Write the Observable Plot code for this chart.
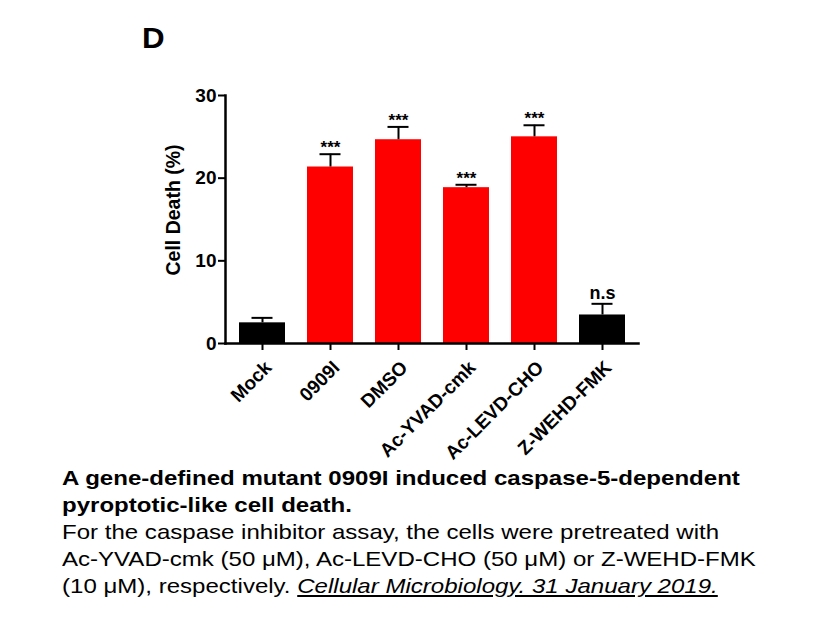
<!DOCTYPE html>
<html>
<head>
<meta charset="utf-8">
<script src="https://cdn.jsdelivr.net/npm/d3@7"></script>
<script src="https://cdn.jsdelivr.net/npm/@observablehq/plot@0.6"></script>
<style>
  html, body { margin: 0; padding: 0; background: #fff; }
  body { width: 831px; height: 624px; position: relative; overflow: hidden; font-family: "Liberation Sans", Arial, sans-serif; }
  #panel { position: absolute; left: 142px; top: 22px; font-weight: bold; font-size: 29px; color: #000; transform: scaleX(1.08); transform-origin: left top; }
  #chart { position: absolute; left: 0; top: 0; }
  #caption { position: absolute; left: 62px; top: 464px; font-size: 21px; line-height: 27px; color: #000; transform: scaleX(1.145); transform-origin: left top; white-space: nowrap; }
  #caption .title { font-weight: bold; }
  #caption .cite { font-style: italic; text-decoration: underline; }
</style>
</head>
<body>
<div id="panel">D</div>
<div id="chart"></div>
<div id="caption">
  <div class="title">A gene-defined mutant 0909I induced caspase-5-dependent<br>pyroptotic-like cell death.</div>
  <div>For the caspase inhibitor assay, the cells were pretreated with<br>Ac-YVAD-cmk (50 μM), Ac-LEVD-CHO (50 μM) or Z-WEHD-FMK<br>(10 μM), respectively. <span class="cite">Cellular Microbiology. 31 January 2019.</span></div>
</div>
<script>
const groups = ["Mock", "0909I", "DMSO", "Ac-YVAD-cmk", "Ac-LEVD-CHO", "Z-WEHD-FMK"];
const means  = [2.5, 21.35, 24.65, 18.85, 25.0, 3.45];
const errors = [0.6, 1.55, 1.55, 0.35, 1.4, 1.35];
const colors = ["black", "red", "red", "red", "red", "black"];
const marks  = ["", "***", "***", "***", "***", "n.s"];
const yTicks = [0, 10, 20, 30];

const data = groups.map((g, i) => ({group: g, mean: means[i], err: errors[i], upper: means[i] + errors[i], color: colors[i], mark: marks[i]}));

const chart = Plot.plot({
  width: 831,
  height: 462,
  marginLeft: 225,
  marginRight: 193,
  marginTop: 95,
  marginBottom: 119,
  style: {fontFamily: "'Liberation Sans', Arial, sans-serif", color: "#000", background: "transparent", overflow: "visible"},
  x: {domain: groups, paddingInner: 0.33, paddingOuter: 0.165, label: null},
  y: {domain: [0, 30], label: null},
  marks: [
    Plot.barY(data, {x: "group", y: "mean", fill: "color"}),
    Plot.ruleX(data, {x: "group", y1: "mean", y2: "upper", stroke: "black", strokeWidth: 2}),
    Plot.tickY(data, {x: "group", y: "upper", stroke: "black", strokeWidth: 2, insetLeft: 12.5, insetRight: 12.5}),
    Plot.text(data.filter(d => d.mark === "***"), {x: "group", y: "upper", text: "mark", lineAnchor: "bottom", dy: -1, fontSize: 17, fontWeight: "bold"}),
    Plot.text(data.filter(d => d.mark === "n.s"), {x: "group", y: "upper", text: "mark", lineAnchor: "bottom", dy: -5, fontSize: 18, fontWeight: "bold"}),
    Plot.frame({anchor: "left", strokeWidth: 2.5}),
    Plot.frame({anchor: "bottom", strokeWidth: 2.5}),
    Plot.axisY({ticks: yTicks, tickSize: 7, tickPadding: 2, strokeWidth: 2, fontSize: 19, fontWeight: "bold", label: null}),
    Plot.axisX({tickSize: 7, tickFormat: null, strokeWidth: 2, label: null}),
    Plot.axisX({tickSize: 0, tickPadding: 21, dx: 6, tickRotate: -45, fontSize: 19, fontWeight: "bold", label: null}),
    Plot.text(["Cell Death (%)"], {frameAnchor: "left", dx: -52, dy: -9.5, rotate: -90, fontSize: 19.5, fontWeight: "bold", textAnchor: "middle"})
  ]
});
document.getElementById("chart").appendChild(chart);
</script>
</body>
</html>
